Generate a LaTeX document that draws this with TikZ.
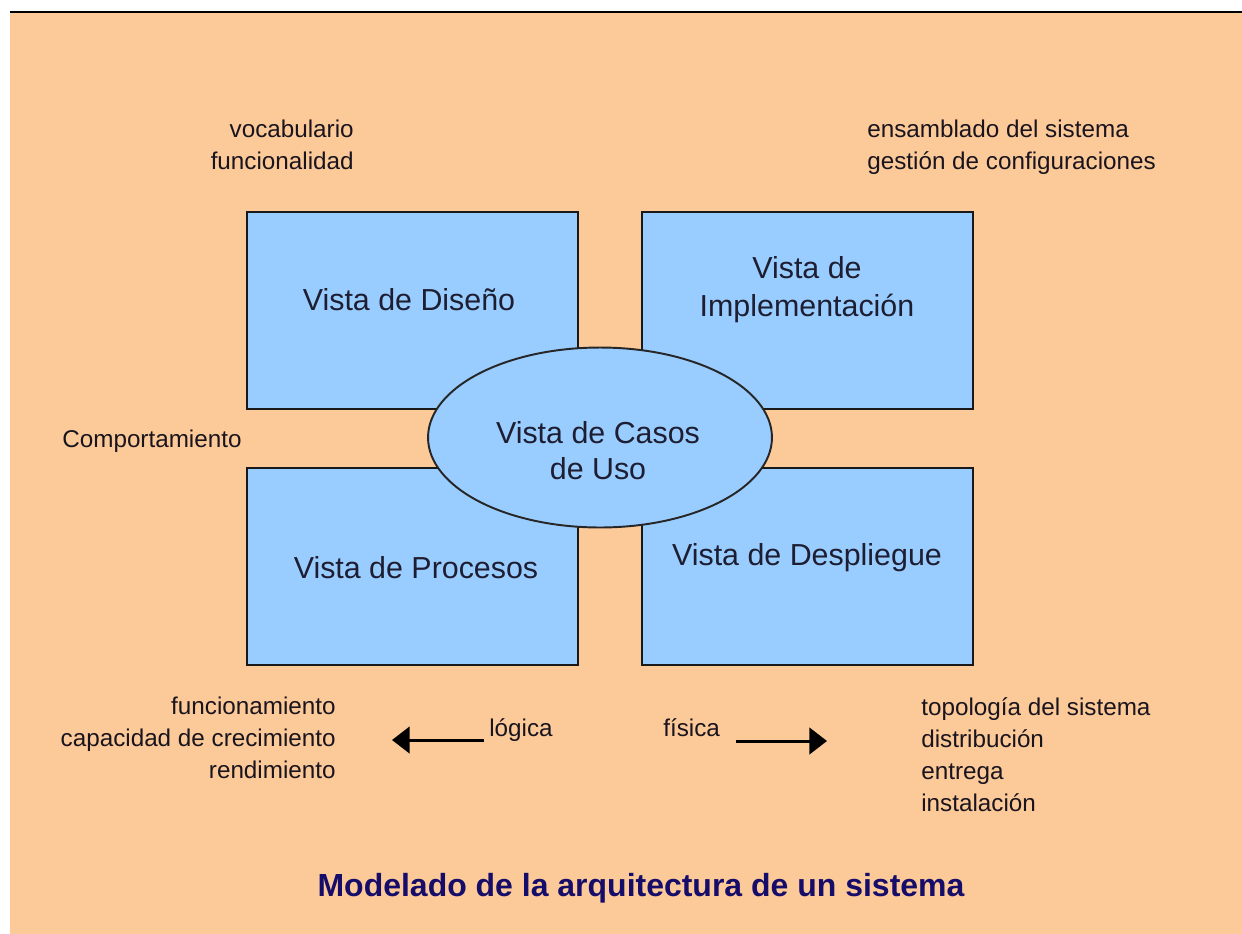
\documentclass[tikz,border=0pt]{standalone}
\usepackage{fontspec}
\setmainfont{Liberation Sans}
\usetikzlibrary{shapes.geometric,arrows.meta}
\definecolor{peach}{RGB}{252,202,152}
\definecolor{boxblue}{RGB}{153,204,255}
\definecolor{navy}{RGB}{22,12,105}
\definecolor{ink}{RGB}{25,20,30}
\definecolor{boxink}{RGB}{30,30,50}
\begin{document}
\begin{tikzpicture}[x=0.02cm,y=-0.02cm,
  viewbox/.style={draw=black!90, line width=1.1pt, fill=boxblue, minimum width=6.62cm, minimum height=3.94cm, inner sep=0pt, anchor=north west},
  usecase/.style={ellipse, draw=black!85, line width=1.1pt, fill=boxblue, minimum width=6.88cm, minimum height=3.6cm, inner sep=0pt},
  boxtext/.style={inner sep=0pt, text=boxink, font=\fontsize{17.3pt}{21.5pt}\selectfont, align=center},
  smalltext/.style={inner sep=0pt, text=ink, font=\fontsize{13.8pt}{18.2pt}\selectfont},
  titletext/.style={inner sep=0pt, text=navy, font=\fontsize{18.2pt}{22pt}\selectfont\bfseries},
  arrowline/.style={line width=1.7pt, draw=black, -{Triangle[length=10pt,width=15pt]}}]
\useasboundingbox (0,0) rectangle (1242,934);
\fill[white] (0,0) rectangle (1242,934);
\fill[peach] (10,12) rectangle (1242,934);
\draw[line width=1.4pt, black] (10,12) -- (1242,12);
% boxes
\node[viewbox] (dis) at (246,211) {};
\node[viewbox] (imp) at (641,211) {};
\node[viewbox] (pro) at (246,467) {};
\node[viewbox] (des) at (641,467) {};
\node[usecase] (uc) at (600,437.5) {};
% box labels
\node[boxtext, anchor=base] (tdis) at (409,310) {Vista de Diseño};
\node[boxtext, anchor=north, font=\fontsize{17.3pt}{21.5pt}\selectfont] (timp) at (807,256) {Vista de\\Implementación};
\node[boxtext, anchor=base] (tpro) at (416,578) {Vista de Procesos};
\node[boxtext, anchor=base] (tdes) at (807,565) {Vista de Despliegue};
\node[boxtext, anchor=north, font=\fontsize{17.3pt}{20.4pt}\selectfont] (tuc) at (598,421) {Vista de Casos\\de Uso};
% small labels
\node[smalltext, anchor=north east, align=right] (voc) at (354,120) {vocabulario\\funcionalidad};
\node[smalltext, anchor=north west, align=left] (ens) at (867,120) {ensamblado del sistema\\gestión de configuraciones};
\node[smalltext, anchor=base west] (comp) at (62,447) {Comportamiento};
\node[smalltext, anchor=north east, align=right] (fun) at (336,697) {funcionamiento\\capacidad de crecimiento\\rendimiento};
\node[smalltext, anchor=north west, align=left] (top) at (921,697) {topología del sistema\\distribución\\entrega\\instalación};
\node[smalltext, anchor=base west] (log) at (489,736) {lógica};
\node[smalltext, anchor=base west] (fis) at (663,736) {física};
% arrows
\coordinate (lgS) at (484,740);
\coordinate (lgE) at (392,740);
\coordinate (fsS) at (736,741);
\coordinate (fsE) at (827,741);
\draw[arrowline] (lgS) -- (lgE);
\draw[arrowline] (fsS) -- (fsE);
% title
\node[titletext, anchor=base] (title) at (641,896) {Modelado de la arquitectura de un sistema};
\end{tikzpicture}
\end{document}
